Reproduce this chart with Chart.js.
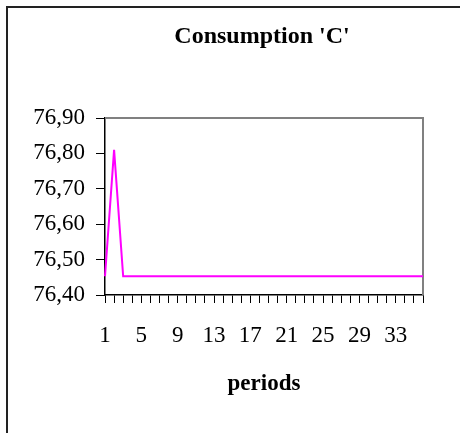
<!DOCTYPE html>
<html>
<head>
<meta charset="utf-8">
<script src="https://cdn.jsdelivr.net/npm/chart.js@4"></script>
<style>
  html, body { margin: 0; padding: 0; background: #fff; overflow: hidden; }
  #wrap { width: 460px; height: 433px; position: relative; }
</style>
</head>
<body>
<div id="wrap"><canvas id="grafico"></canvas></div>
<script>
// categorias (periodos) e valores
const periods = [
  "1","2","3","4","5","6","7","8","9","10","11","12",
  "13","14","15","16","17","18","19","20","21","22","23","24",
  "25","26","27","28","29","30","31","32","33","34","35","36"
];
const consumption = [
  76.453, 76.81, 76.453, 76.453, 76.453, 76.453, 76.453, 76.453, 76.453, 76.453, 76.453, 76.453,
  76.453, 76.453, 76.453, 76.453, 76.453, 76.453, 76.453, 76.453, 76.453, 76.453, 76.453, 76.453,
  76.453, 76.453, 76.453, 76.453, 76.453, 76.453, 76.453, 76.453, 76.453, 76.453, 76.453, 76.453
];
const chartTitle = "Consumption 'C'";
const yMin = 76.4;
const yMax = 76.9;
const yStep = 0.1;

const serif = "'Liberation Serif', 'Times New Roman', serif";

// moldura externa, borda cinza da área do gráfico e título centrado sobre ela
const molduras = {
    id: "molduras",
    beforeDraw(chart) {
        const ctx = chart.ctx;
        ctx.save();
        ctx.strokeStyle = "#222";
        ctx.lineWidth = 2;
        ctx.beginPath();
        ctx.moveTo(7, chart.height);
        ctx.lineTo(7, 7);
        ctx.lineTo(chart.width, 7);
        ctx.stroke();
        ctx.restore();
    },
    beforeDatasetsDraw(chart) {
        const a = chart.chartArea;
        const ctx = chart.ctx;
        ctx.save();
        ctx.strokeStyle = "#808080";
        ctx.lineWidth = 2;
        ctx.beginPath();
        ctx.moveTo(a.left, a.top);
        ctx.lineTo(a.right, a.top);
        ctx.lineTo(a.right, a.bottom);
        ctx.stroke();
        ctx.restore();
    },
    afterDraw(chart) {
        const a = chart.chartArea;
        const ctx = chart.ctx;
        ctx.save();
        ctx.fillStyle = "#000";
        ctx.font = "bold 24px " + serif;
        ctx.textAlign = "center";
        ctx.textBaseline = "middle";
        ctx.fillText(chartTitle, (a.left + a.right) / 2 - 2, 37);
        ctx.restore();
    }
};

new Chart(document.getElementById("grafico"), {
    type: "line",
    data: {
        labels: periods,
        datasets: [{
            label: chartTitle,
            data: consumption,
            borderColor: "#FF00FF",
            borderWidth: 2,
            pointRadius: 0,
            tension: 0,
            fill: false
        }]
    },
    options: {
        responsive: true,
        maintainAspectRatio: false,
        animation: false,
        layout: { padding: { left: 0, right: 37, top: 118, bottom: 0 } },
        plugins: {
            legend: { display: false },
            tooltip: { enabled: false },
            title: { display: false }
        },
        scales: {
            x: {
                offset: false,
                afterFit: (s) => { s.height = 138; },
                border: { display: true, color: "#000", width: 1.5 },
                grid: { display: true, drawOnChartArea: false, drawTicks: true, tickLength: 8, color: "#000", lineWidth: 1 },
                ticks: {
                    autoSkip: false,
                    maxRotation: 0,
                    padding: 19,
                    color: "#000",
                    font: { family: serif, size: 23 },
                    callback: (val, i) => (i % 4 === 0 ? periods[i] : "")
                },
                title: {
                    display: true,
                    text: "periods",
                    color: "#000",
                    font: { family: serif, size: 23, weight: "bold" },
                    padding: { top: 0, bottom: 35 }
                }
            },
            y: {
                min: yMin,
                max: yMax,
                afterFit: (s) => { s.width = 105; },
                border: { display: true, color: "#000", width: 1.5 },
                grid: { display: true, drawOnChartArea: false, drawTicks: true, tickLength: 9, color: "#000", lineWidth: 1 },
                ticks: {
                    stepSize: yStep,
                    padding: 11,
                    color: "#000",
                    font: { family: serif, size: 23 },
                    callback: (val) => val.toFixed(2).replace(".", ",")
                }
            }
        }
    },
    plugins: [molduras]
});
</script>
</body>
</html>
